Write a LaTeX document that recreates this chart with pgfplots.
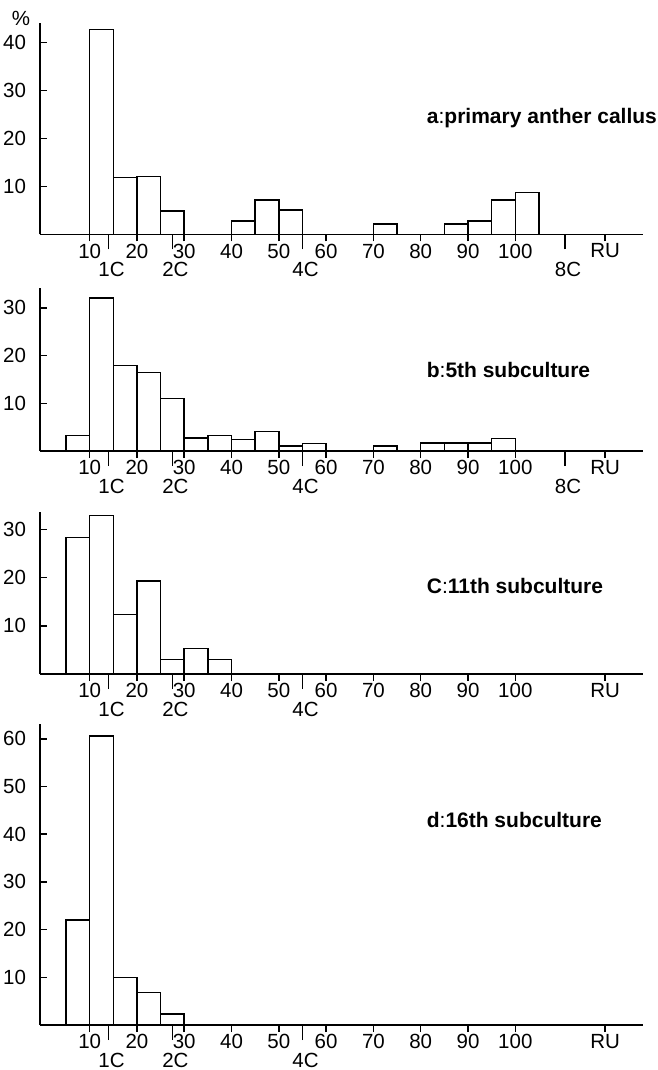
\documentclass[border=0pt]{standalone}
\usepackage{fontspec}
\setmainfont{Liberation Sans}
\usepackage{pgfplots}
\pgfplotsset{compat=1.18}

% common look of the four histograms
\pgfplotsset{
  histo/.style={
    scale only axis,
    width=301.5pt,
    xmin=-0.5, xmax=127,
    ymin=0,
    axis x line=bottom,
    axis y line=left,
    axis line style={-, line width=0.75pt},
    tick style={black, line width=0.75pt},
    tick align=outside,
    major tick length=3.5pt,
    ytick style={xshift=3.5pt},
    xtick={10,20,30,40,50,60,70,80,90,100,119},
    xticklabels={10,20,30,40,50,60,70,80,90,100,RU},
    xticklabel style={inner sep=0pt, yshift=-1pt},
    extra x tick style={major tick length=7.5pt,
      tick label style={inner sep=0pt, yshift=-5.2pt, xshift=1.5pt}},
    ybar, bar width=5, bar shift=0pt,
    clip=false,
    font=\fontsize{10.25}{12}\selectfont,
    /pgf/number format/assume math mode=true,
  },
  hbar/.style={draw=black, fill=white, line width=0.75pt},
}

\begin{document}
\begin{tikzpicture}
\useasboundingbox (-20pt,0pt) rectangle (309pt,-535pt);

% a
\begin{axis}[histo, height=105.8pt, ymax=44.1,
    ytick={10,20,30,40},
    extra x ticks={14,27.5,55,110.5},
    extra x tick labels={1C,2C,4C,8C},
    anchor=south west, at={(0pt,-117.15pt)}]
\addplot[hbar] coordinates {
 (12.5,42.7) (17.5,11.8) (22.5,12.0) (27.5,4.9)
 (42.5,2.8) (47.5,7.1) (52.5,5.1) (72.5,2.1)
 (87.5,2.1) (92.5,2.8) (97.5,7.1) (102.5,8.7)
};
\node at (rel axis cs:0,1) [xshift=-9.5pt, yshift=2pt] {\%};
\node[anchor=west, font=\fontsize{10.5}{12}\selectfont] at (axis cs:79.8,24.2)
  {\textbf{a}:\textbf{primary anther callus}};
\end{axis}

% b
\begin{axis}[histo, height=81.4pt, ymax=34.1,
    ytick={10,20,30},
    extra x ticks={14,27.5,55,110.5},
    extra x tick labels={1C,2C,4C,8C},
    anchor=south west, at={(0pt,-225.5pt)}]
\addplot[hbar] coordinates {
 (7.5,3.2) (12.5,32.0) (17.5,17.9) (22.5,16.4) (27.5,11.0)
 (32.5,2.7) (37.5,3.2) (42.5,2.4) (47.5,4.1) (52.5,1.1)
 (57.5,1.6) (72.5,1.1) (82.5,1.7) (87.5,1.7) (92.5,1.7)
 (97.5,2.6)
};
\node[anchor=west, font=\fontsize{10.5}{12}\selectfont] at (axis cs:79.8,17.0)
  {\textbf{b}:\textbf{5th subculture}};
\end{axis}

% c
\begin{axis}[histo, height=81.2pt, ymax=33.7,
    ytick={10,20,30},
    extra x ticks={14,27.5,55},
    extra x tick labels={1C,2C,4C},
    anchor=south west, at={(0pt,-337pt)}]
\addplot[hbar] coordinates {
 (7.5,28.3) (12.5,32.9) (17.5,12.4) (22.5,19.3)
 (27.5,3.05) (32.5,5.3) (37.5,3.05)
};
\node[anchor=west, font=\fontsize{10.5}{12}\selectfont] at (axis cs:79.8,18.3)
  {\textbf{C}:\textbf{11th subculture}};
\end{axis}

% d
\begin{axis}[histo, height=150.5pt, ymax=63.1,
    ytick={10,20,30,40,50,60},
    extra x ticks={14,27.5,55},
    extra x tick labels={1C,2C,4C},
    anchor=south west, at={(0pt,-512.5pt)}]
\addplot[hbar] coordinates {
 (7.5,22.0) (12.5,60.6) (17.5,10.0) (22.5,6.85) (27.5,2.3)
};
\node[anchor=west, font=\fontsize{10.5}{12}\selectfont] at (axis cs:79.8,43.0)
  {\textbf{d}:\textbf{16th subculture}};
\end{axis}
\end{tikzpicture}
\end{document}
